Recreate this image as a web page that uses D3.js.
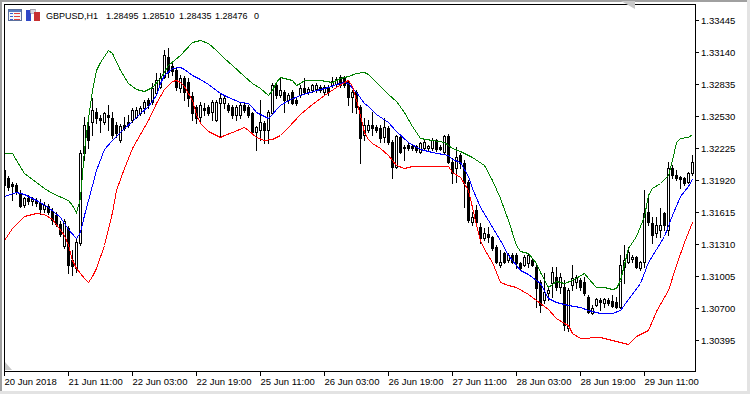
<!DOCTYPE html>
<html><head><meta charset="utf-8">
<script src="https://cdn.jsdelivr.net/npm/d3@7"></script>
<style>html,body{margin:0;padding:0;background:#fff;overflow:hidden}</style>
</head><body>
<svg id="c" width="750" height="394" xmlns="http://www.w3.org/2000/svg"></svg>
<script>
// ---- DATA (GBPUSD, H1) ----
const symbolTitle = "GBPUSD,H1";
const headerValues = ["1.28495", "1.28510", "1.28435", "1.28476", "0"];

const opens = [1.32016,1.31940,1.31883,1.31873,1.31796,1.31682,1.31749,1.31720,1.31730,1.31701,
1.31644,1.31673,1.31625,1.31587,1.31501,1.31292,1.31463,1.31158,1.31082,1.31320,
1.32178,1.32435,1.32473,1.32569,1.32511,1.32473,1.32540,1.32511,1.32445,1.32302,
1.32445,1.32473,1.32492,1.32521,1.32559,1.32607,1.32683,1.32664,1.32750,1.32807,
1.32902,1.33093,1.33007,1.32969,1.32797,1.32893,1.32855,1.32721,1.32616,1.32521,
1.32607,1.32616,1.32569,1.32492,1.32654,1.32654,1.32635,1.32616,1.32540,1.32540,
1.32635,1.32616,1.32559,1.32378,1.32397,1.32463,1.32397,1.32559,1.32826,1.32731,
1.32759,1.32683,1.32759,1.32683,1.32731,1.32797,1.32759,1.32778,1.32788,1.32807,
1.32759,1.32797,1.32826,1.32836,1.32902,1.32893,1.32855,1.32712,1.32759,1.32616,
1.32349,1.32397,1.32445,1.32426,1.32416,1.32330,1.32416,1.32283,1.32045,1.32330,
1.32235,1.32254,1.32245,1.32245,1.32187,1.32225,1.32225,1.32225,1.32302,1.32235,
1.32187,1.32340,1.32092,1.32035,1.32159,1.32082,1.31902,1.31520,1.31635,1.31473,
1.31368,1.31406,1.31377,1.31282,1.31110,1.31225,1.31158,1.31206,1.31206,1.31130,
1.31110,1.31130,1.31158,1.31091,1.30949,1.30777,1.30844,1.30939,1.30996,1.30901,
1.30901,1.30510,1.30920,1.30949,1.30968,1.30949,1.30806,1.30653,1.30730,1.30777,
1.30748,1.30777,1.30768,1.30758,1.30710,1.31091,1.31139,1.31168,1.31187,1.31082,
1.31139,1.31616,1.31511,1.31415,1.31444,1.31606,1.31444,1.32035,1.31968,1.31949,
1.31940,1.31902,1.31987];

const highs = [1.32092,1.31959,1.31902,1.31892,1.31825,1.31759,1.31778,1.31759,1.31749,1.31740,
1.31711,1.31692,1.31654,1.31616,1.31530,1.31549,1.31482,1.31254,1.31368,1.32206,
1.32521,1.32492,1.32702,1.32607,1.32540,1.32569,1.32635,1.32569,1.32473,1.32454,
1.32521,1.32540,1.32607,1.32616,1.32626,1.32683,1.32702,1.32845,1.32940,1.32940,
1.33160,1.33179,1.33036,1.32988,1.32921,1.32912,1.32893,1.32759,1.32635,1.32664,
1.32654,1.32635,1.32683,1.32683,1.32750,1.32721,1.32654,1.32635,1.32635,1.32654,
1.32654,1.32635,1.32569,1.32435,1.32683,1.32483,1.32588,1.32845,1.32855,1.32902,
1.32778,1.32750,1.32778,1.32712,1.32826,1.32893,1.32807,1.32836,1.32845,1.32826,
1.32826,1.32826,1.32902,1.32902,1.32921,1.32912,1.32874,1.32778,1.32778,1.32635,
1.32511,1.32492,1.32569,1.32445,1.32445,1.32511,1.32435,1.32302,1.32349,1.32349,
1.32254,1.32273,1.32264,1.32254,1.32283,1.32302,1.32254,1.32321,1.32311,1.32254,
1.32349,1.32359,1.32130,1.32235,1.32178,1.32111,1.31921,1.31616,1.31682,1.31511,
1.31463,1.31473,1.31387,1.31301,1.31254,1.31235,1.31225,1.31225,1.31225,1.31139,
1.31206,1.31225,1.31177,1.31110,1.30968,1.31034,1.30901,1.31091,1.31091,1.31034,
1.30968,1.30892,1.31110,1.31015,1.30987,1.30996,1.30825,1.30730,1.30796,1.30796,
1.30796,1.30796,1.30825,1.30806,1.31206,1.31301,1.31282,1.31206,1.31196,1.31149,
1.31825,1.31759,1.31568,1.31568,1.31654,1.31616,1.32092,1.32064,1.32016,1.31959,
1.31949,1.31997,1.32159];

const lows = [1.31854,1.31825,1.31730,1.31787,1.31663,1.31663,1.31692,1.31682,1.31673,1.31597,
1.31616,1.31597,1.31501,1.31482,1.31387,1.31273,1.31034,1.31015,1.31044,1.31301,
1.32111,1.32225,1.32349,1.32463,1.32378,1.32454,1.32397,1.32321,1.32330,1.32283,
1.32397,1.32426,1.32473,1.32511,1.32540,1.32559,1.32607,1.32645,1.32731,1.32797,
1.32893,1.32902,1.32921,1.32778,1.32759,1.32683,1.32626,1.32492,1.32463,1.32473,
1.32540,1.32540,1.32492,1.32483,1.32330,1.32607,1.32569,1.32511,1.32492,1.32511,
1.32569,1.32521,1.32368,1.32206,1.32302,1.32273,1.32273,1.32550,1.32702,1.32712,
1.32569,1.32654,1.32645,1.32635,1.32712,1.32750,1.32740,1.32759,1.32759,1.32759,
1.32731,1.32731,1.32807,1.32816,1.32807,1.32807,1.32635,1.32569,1.32559,1.32082,
1.32302,1.32378,1.32349,1.32378,1.32283,1.32283,1.32264,1.31940,1.32035,1.32178,
1.32111,1.32206,1.32206,1.32187,1.32178,1.32206,1.32206,1.32206,1.32197,1.32206,
1.32178,1.32082,1.31892,1.31902,1.32035,1.31663,1.31520,1.31492,1.31492,1.31320,
1.31349,1.31330,1.31254,1.31130,1.31091,1.31130,1.31139,1.31130,1.31082,1.31063,
1.31101,1.31091,1.31101,1.30710,1.30663,1.30748,1.30777,1.30806,1.30872,1.30844,
1.30491,1.30481,1.30872,1.30892,1.30872,1.30825,1.30653,1.30644,1.30720,1.30682,
1.30710,1.30730,1.30710,1.30701,1.30701,1.30939,1.31130,1.31139,1.31082,1.31063,
1.31091,1.31492,1.31320,1.31377,1.31377,1.31444,1.31396,1.31940,1.31921,1.31844,
1.31873,1.31892,1.31968];

const closes = [1.31873,1.31854,1.31864,1.31806,1.31673,1.31749,1.31720,1.31740,1.31701,1.31644,
1.31682,1.31616,1.31539,1.31501,1.31406,1.31530,1.31110,1.31101,1.31330,1.32178,
1.32445,1.32302,1.32588,1.32511,1.32492,1.32559,1.32521,1.32349,1.32368,1.32435,
1.32416,1.32445,1.32588,1.32588,1.32607,1.32664,1.32635,1.32797,1.32874,1.32893,
1.33112,1.32950,1.32959,1.32807,1.32893,1.32759,1.32702,1.32559,1.32511,1.32635,
1.32588,1.32559,1.32664,1.32664,1.32702,1.32702,1.32588,1.32540,1.32616,1.32635,
1.32588,1.32540,1.32378,1.32426,1.32473,1.32397,1.32569,1.32826,1.32731,1.32778,
1.32683,1.32731,1.32654,1.32654,1.32797,1.32759,1.32788,1.32826,1.32826,1.32778,
1.32807,1.32759,1.32864,1.32883,1.32826,1.32826,1.32712,1.32759,1.32616,1.32321,
1.32445,1.32445,1.32416,1.32397,1.32321,1.32426,1.32283,1.32045,1.32340,1.32187,
1.32225,1.32225,1.32225,1.32206,1.32273,1.32283,1.32245,1.32302,1.32216,1.32216,
1.32340,1.32092,1.31987,1.32140,1.32082,1.31892,1.31539,1.31568,1.31520,1.31368,
1.31415,1.31377,1.31273,1.31139,1.31139,1.31139,1.31206,1.31139,1.31130,1.31082,
1.31187,1.31206,1.31110,1.30892,1.30730,1.30853,1.30872,1.31044,1.30901,1.30996,
1.30538,1.30872,1.30987,1.30996,1.30901,1.30844,1.30663,1.30701,1.30787,1.30758,
1.30787,1.30748,1.30720,1.30710,1.31110,1.31158,1.31235,1.31187,1.31091,1.31139,
1.31606,1.31520,1.31396,1.31492,1.31492,1.31492,1.32035,1.31968,1.31940,1.31930,
1.31892,1.31987,1.32092];

// indicator lines: [bar index, price]
const upperBand = [[0,1.32178],[2,1.32178],[5,1.31987],[10,1.31844],[12,1.31796],[16,1.31730],[17,1.31682],[18,1.31616],
[19,1.31749],[20,1.32206],[21,1.32511],[22,1.32778],[23,1.32969],[24,1.33045],[26,1.33160],[27,1.33131],[29,1.32969],
[31,1.32845],[33,1.32788],[35,1.32769],[37,1.32807],[39,1.32893],[41,1.33017],[44,1.33112],[47,1.33236],[49,1.33255],
[51,1.33226],[53,1.33160],[55,1.33083],[57,1.33017],[60,1.32912],[62,1.32845],[64,1.32797],[66,1.32731],[67,1.32778],
[68,1.32855],[69,1.32902],[72,1.32874],[73,1.32826],[74,1.32845],[75,1.32874],[79,1.32874],[82,1.32855],[84,1.32893],
[86,1.32912],[88,1.32940],[90,1.32950],[91,1.32931],[93,1.32855],[96,1.32740],[98,1.32674],[100,1.32569],[102,1.32435],
[104,1.32321],[107,1.32302],[110,1.32283],[112,1.32225],[114,1.32197],[117,1.32140],[120,1.32064],[122,1.31921],
[124,1.31749],[126,1.31539],[128,1.31301],[129,1.31244],[131,1.31225],[133,1.31130],[134,1.31044],[136,1.30901],
[138,1.30958],[140,1.30939],[142,1.30968],[145,1.31034],[146,1.30987],[148,1.30901],[150,1.30901],[152,1.30882],
[153,1.30892],[154,1.30968],[156,1.31273],[158,1.31387],[160,1.31578],[161,1.31778],[162,1.31844],[164,1.31892],
[166,1.31968],[167,1.32111],[168,1.32283],[169,1.32321],[171,1.32330],[172,1.32359]];

const middleLine = [[0,1.31768],[3,1.31806],[5,1.31787],[8,1.31730],[11,1.31663],[14,1.31568],[16,1.31454],[18,1.31368],
[19,1.31425],[20,1.31587],[21,1.31730],[23,1.32016],[25,1.32216],[27,1.32302],[30,1.32416],[32,1.32483],[34,1.32559],
[36,1.32626],[38,1.32731],[39,1.32845],[40,1.32921],[42,1.32988],[44,1.32998],[45,1.32979],[47,1.32921],[49,1.32883],
[51,1.32836],[54,1.32750],[56,1.32712],[59,1.32664],[61,1.32654],[62,1.32616],[63,1.32569],[65,1.32530],[66,1.32511],
[67,1.32550],[68,1.32597],[69,1.32635],[71,1.32683],[74,1.32731],[78,1.32778],[81,1.32807],[83,1.32836],[85,1.32855],
[86,1.32845],[88,1.32759],[90,1.32654],[91,1.32626],[93,1.32550],[96,1.32473],[98,1.32388],[101,1.32283],[104,1.32216],
[107,1.32187],[111,1.32159],[112,1.32121],[114,1.32092],[116,1.31959],[117,1.31844],[119,1.31663],[121,1.31539],
[124,1.31349],[126,1.31206],[129,1.31063],[131,1.31025],[134,1.30939],[136,1.30796],[138,1.30758],[141,1.30730],
[144,1.30710],[146,1.30682],[149,1.30653],[152,1.30653],[154,1.30682],[156,1.30787],[159,1.30939],[161,1.31139],
[163,1.31263],[165,1.31387],[167,1.31587],[169,1.31768],[171,1.31863],[172,1.31930]];

const lowerBand = [[0,1.31349],[2,1.31463],[5,1.31578],[8,1.31606],[10,1.31597],[12,1.31549],[15,1.31396],[16,1.31301],
[17,1.31158],[18,1.31082],[20,1.30987],[21,1.30949],[22,1.31006],[23,1.31082],[25,1.31301],[27,1.31616],[28,1.31825],
[30,1.32035],[32,1.32225],[34,1.32359],[36,1.32492],[38,1.32654],[40,1.32788],[42,1.32864],[43,1.32874],[44,1.32855],
[45,1.32817],[47,1.32683],[48,1.32550],[49,1.32463],[51,1.32388],[54,1.32330],[55,1.32349],[57,1.32378],[60,1.32426],
[61,1.32397],[63,1.32330],[65,1.32302],[67,1.32311],[69,1.32349],[71,1.32426],[74,1.32550],[77,1.32645],[80,1.32731],
[83,1.32807],[85,1.32855],[86,1.32874],[87,1.32817],[88,1.32683],[89,1.32540],[90,1.32378],[91,1.32311],[92,1.32273],
[94,1.32225],[96,1.32159],[98,1.32064],[100,1.32035],[102,1.32054],[111,1.32054],[112,1.31997],[114,1.31949],
[116,1.31825],[117,1.31663],[118,1.31492],[119,1.31349],[120,1.31263],[122,1.31139],[124,1.30949],[126,1.30920],
[128,1.30901],[131,1.30834],[133,1.30777],[136,1.30691],[138,1.30605],[140,1.30557],[141,1.30538],[142,1.30462],
[144,1.30415],[149,1.30424],[152,1.30396],[156,1.30358],[158,1.30434],[161,1.30491],[163,1.30672],[166,1.30872],
[168,1.31110],[170,1.31330],[172,1.31520]];

const priceTicks = [1.33445,1.33140,1.32835,1.32530,1.32225,1.31920,1.31615,1.31310,1.31005,1.30700,1.30395];
const timeTickBars = [0,16,32,48,64,80,96,112,128,144,160];
const timeTickLabels = ["20 Jun 2018","21 Jun 11:00","22 Jun 03:00","22 Jun 19:00","25 Jun 11:00","26 Jun 03:00",
"26 Jun 19:00","27 Jun 11:00","28 Jun 03:00","28 Jun 19:00","29 Jun 11:00"];

// ---- DRAW ----
const FONT = "'Liberation Sans', Arial, sans-serif";
const svg = d3.select("#c");
const frame = {left:4, top:4, right:695, bottom:371};

const x = d3.scaleLinear().domain([0, opens.length - 1]).range([4, 4 + 4 * (opens.length - 1)]);
const y = d3.scaleLinear().domain([1.30395, 1.33445]).range([340, 20]);

// window background & border
svg.append("rect").attr("x",0).attr("y",0).attr("width",750).attr("height",394).attr("fill","#ffffff");
svg.append("rect").attr("x",0).attr("y",0).attr("width",750).attr("height",2).attr("fill","#a0a0a0");
svg.append("rect").attr("x",0).attr("y",0).attr("width",2).attr("height",394).attr("fill","#a0a0a0");
svg.append("rect").attr("x",747).attr("y",0).attr("width",3).attr("height",394).attr("fill","#e3e3e3");
svg.append("rect").attr("x",0).attr("y",391).attr("width",750).attr("height",3).attr("fill","#e3e3e3");

svg.append("defs").append("clipPath").attr("id","plotclip")
  .append("rect").attr("x",frame.left+1).attr("y",frame.top+1)
  .attr("width",frame.right-frame.left-1).attr("height",frame.bottom-frame.top-1);

const plot = svg.append("g").attr("clip-path","url(#plotclip)");

// candles
const candles = plot.append("g").attr("shape-rendering","crispEdges");
d3.range(opens.length).forEach(i => {
  const cx = Math.round(x(i));
  const yo = Math.round(y(opens[i])), yc = Math.round(y(closes[i]));
  const yh = Math.round(y(highs[i])), yl = Math.round(y(lows[i]));
  candles.append("line").attr("x1",cx+0.5).attr("x2",cx+0.5).attr("y1",yh).attr("y2",yl+1)
    .attr("stroke","#000").attr("stroke-width",1);
  if (closes[i] > opens[i]) {
    const top = yc, bot = yo;
    if (bot - top < 1) {
      candles.append("rect").attr("x",cx-1).attr("y",top).attr("width",3).attr("height",1).attr("fill","#000");
    } else {
      candles.append("rect").attr("x",cx-0.5).attr("y",top+0.5).attr("width",2).attr("height",bot-top)
        .attr("fill","#fff").attr("stroke","#000").attr("stroke-width",1);
    }
  } else {
    const top = yo, bot = yc;
    candles.append("rect").attr("x",cx-1).attr("y",top).attr("width",3).attr("height",Math.max(1,bot-top+1))
      .attr("fill","#000");
  }
});

// indicator lines on top
const lineGen = d3.line().x(d => Math.round(x(d[0])) + 0.5).y(d => Math.round(y(d[1])) + 0.5);
[[upperBand,"#008000"],[middleLine,"#0000ff"],[lowerBand,"#ff0000"]].forEach(([data,col]) => {
  plot.append("path").attr("d", lineGen(data)).attr("fill","none").attr("stroke",col)
    .attr("stroke-width",1).attr("shape-rendering","crispEdges");
});

// frame
svg.append("rect").attr("x",frame.left+0.5).attr("y",frame.top+0.5)
  .attr("width",frame.right-frame.left).attr("height",frame.bottom-frame.top)
  .attr("fill","none").attr("stroke","#000").attr("shape-rendering","crispEdges");

// price axis
const yAxis = svg.append("g").attr("transform",`translate(${frame.right},0)`)
  .call(d3.axisRight(y).tickValues(priceTicks).tickSize(4).tickPadding(2).tickFormat(d3.format(".5f")));
yAxis.select(".domain").remove();
yAxis.selectAll("line").attr("stroke","#000").attr("shape-rendering","crispEdges");
yAxis.selectAll("text").attr("font-family",FONT).attr("font-size","9.5px").attr("fill","#000");

// time axis
const xAxis = svg.append("g").attr("transform",`translate(0,${frame.bottom})`)
  .call(d3.axisBottom(x).tickValues(timeTickBars).tickSize(5).tickPadding(2)
    .tickFormat((d,i) => timeTickLabels[i]));
xAxis.select(".domain").remove();
xAxis.selectAll("line").attr("stroke","#000").attr("shape-rendering","crispEdges");
xAxis.selectAll("text").attr("font-family",FONT).attr("font-size","9.5px").attr("fill","#000")
  .attr("text-anchor","start").attr("x",0);

// header icons
const hdr = svg.append("g").attr("shape-rendering","crispEdges");
hdr.append("rect").attr("x",8.5).attr("y",9.5).attr("width",13).attr("height",11).attr("fill","#f4f6fb").attr("stroke","#5b6f9c");
hdr.append("rect").attr("x",9).attr("y",10).attr("width",12).attr("height",2).attr("fill","#5b7bc0");
[13,16,19].forEach(yy => {
  hdr.append("rect").attr("x",10).attr("y",yy).attr("width",3).attr("height",1).attr("fill","#3a5bd0");
  hdr.append("rect").attr("x",14).attr("y",yy).attr("width",6).attr("height",1).attr("fill","#e04040");
});
hdr.append("rect").attr("x",26).attr("y",10).attr("width",5).attr("height",11).attr("fill","#3048c8");
hdr.append("rect").attr("x",30).attr("y",9).attr("width",5).attr("height",4).attr("fill","#d8d8e0").attr("stroke","#707080").attr("stroke-width",0.5);
hdr.append("rect").attr("x",34).attr("y",12).attr("width",6).attr("height",9).attr("fill","#c83030");

// header text
const headerTokens = [symbolTitle].concat(headerValues);
const headerX = [46, 106, 142, 179, 215, 254];
svg.append("g").selectAll("text").data(headerTokens).join("text")
  .attr("x",(d,i)=>headerX[i]).attr("y",19)
  .attr("font-family",FONT).attr("font-size","9px").attr("fill","#000").text(d=>d);

// small gray corner markers
svg.append("path").attr("d","M621,1 L635,1 L635,9 Z").attr("fill","#c8c8c8");
svg.append("path").attr("d","M5,362 L5,370 L12,370 Z").attr("fill","#c8c8c8");
</script>
</body></html>
